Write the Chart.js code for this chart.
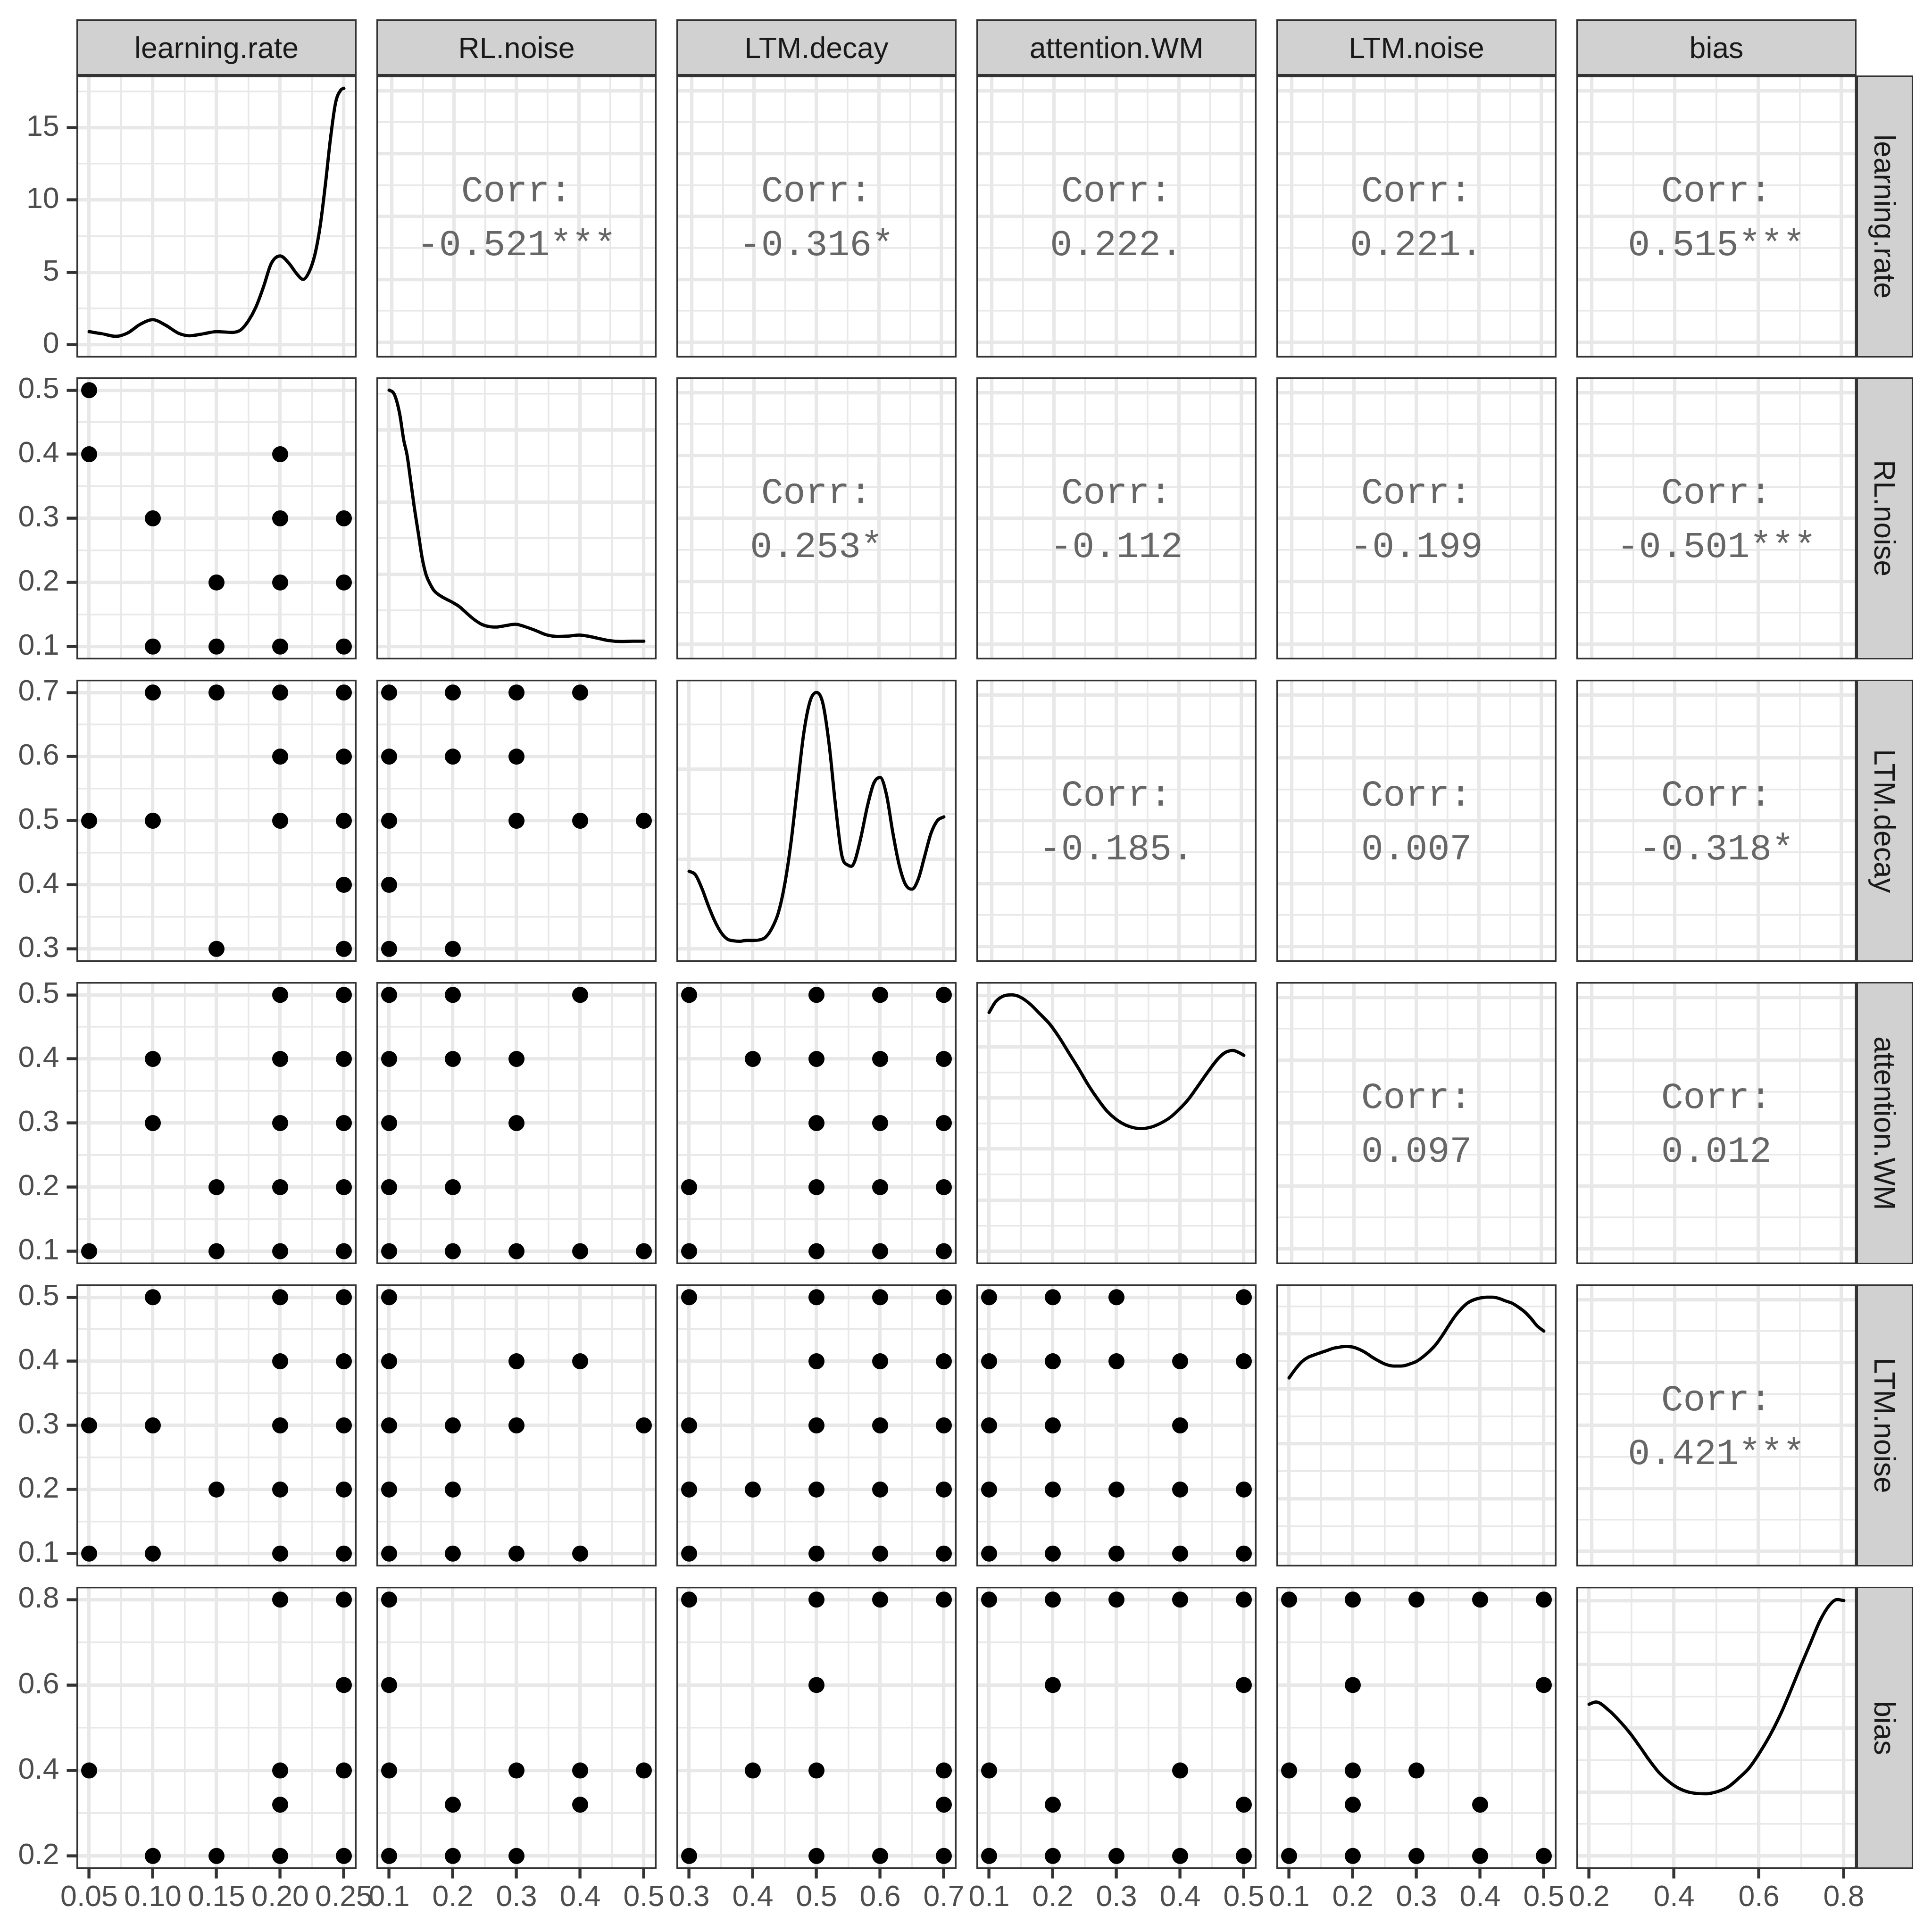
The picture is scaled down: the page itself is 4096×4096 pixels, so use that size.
<!DOCTYPE html>
<html>
<head>
<meta charset="utf-8">
<script src="https://cdn.jsdelivr.net/npm/chart.js"></script>
<style>
html,body{margin:0;padding:0;background:#ffffff;}
#root{position:relative;width:4096px;height:4096px;overflow:hidden;background:#ffffff;}
.pc{position:absolute;}
.strip{position:absolute;box-sizing:border-box;border:3.3px solid #333333;background:#D1D1D1;color:#1A1A1A;
  font-family:"Liberation Sans",Arial,Helvetica,sans-serif;font-size:62.6px;display:flex;align-items:center;justify-content:center;white-space:nowrap;}
.vstrip{writing-mode:vertical-rl;}
.corr{position:absolute;font-family:"Liberation Mono","Courier New",monospace;font-size:78.2px;line-height:78.2px;color:#666666;text-align:center;white-space:pre;}
</style>
</head>
<body>
<div id="root"></div>
<script>
// ---------------- DATA ----------------
const variables = ['learning.rate', 'RL.noise', 'LTM.decay', 'attention.WM', 'LTM.noise', 'bias'];

// axis tick labels (major breaks) of each variable
const ticksLearningRate = ['0.05', '0.10', '0.15', '0.20', '0.25'];
const ticksRLNoise      = ['0.1', '0.2', '0.3', '0.4', '0.5'];
const ticksLTMDecay     = ['0.3', '0.4', '0.5', '0.6', '0.7'];
const ticksAttentionWM  = ['0.1', '0.2', '0.3', '0.4', '0.5'];
const ticksLTMNoise     = ['0.1', '0.2', '0.3', '0.4', '0.5'];
const ticksBias         = ['0.2', '0.4', '0.6', '0.8'];

// density-axis breaks of the diagonal panels
const densTicksLearningRate = ['0', '5', '10', '15'];
const densTicksRLNoise      = ['0', '2', '4', '6'];
const densTicksLTMDecay     = ['0', '2', '4'];
const densTicksAttentionWM  = ['0', '0.5', '1', '1.5', '2', '2.5'];
const densTicksLTMNoise     = ['0', '0.5', '1', '1.5', '2'];
const densTicksBias         = ['0', '0.5', '1', '1.5', '2'];

// density curves (diagonal)
const densLearningRateX = [0.05,0.06,0.071,0.08,0.09,0.10,0.11,0.12,0.129,0.14,0.15,0.162,0.169,0.175,0.181,0.187,0.193,0.20,0.207,0.213,0.218,0.223,0.2275,0.2315,0.2355,0.2395,0.2435,0.2476,0.25];
const densLearningRateY = [0.90,0.76,0.58,0.80,1.40,1.73,1.35,0.80,0.62,0.76,0.90,0.85,1.02,1.64,2.61,4.02,5.61,6.13,5.61,4.90,4.51,5.08,6.31,8.25,11.07,14.24,16.71,17.59,17.71];

const densRLNoiseX = [0.100,0.107,0.112,0.117,0.123,0.128,0.133,0.139,0.146,0.152,0.158,0.165,0.171,0.181,0.190,0.200,0.210,0.219,0.232,0.245,0.258,0.267,0.283,0.298,0.312,0.328,0.348,0.364,0.380,0.399,0.412,0.428,0.444,0.466,0.482,0.500];
const densRLNoiseY = [7.10,7.02,6.79,6.40,5.71,5.32,4.70,3.92,3.12,2.44,1.99,1.71,1.54,1.40,1.31,1.22,1.11,0.97,0.77,0.62,0.55,0.54,0.58,0.62,0.56,0.46,0.32,0.28,0.29,0.32,0.29,0.23,0.17,0.14,0.15,0.15];

const densLTMDecayX = [0.30,0.31,0.32,0.33,0.34,0.35,0.36,0.37,0.38,0.39,0.40,0.41,0.42,0.43,0.44,0.45,0.46,0.47,0.48,0.49,0.50,0.51,0.52,0.53,0.54,0.55,0.555,0.56,0.57,0.58,0.59,0.60,0.61,0.62,0.63,0.64,0.65,0.66,0.67,0.68,0.69,0.70];
const densLTMDecayY = [1.73,1.65,1.35,0.97,0.63,0.37,0.22,0.18,0.17,0.19,0.19,0.20,0.26,0.46,0.80,1.43,2.37,3.60,4.80,5.52,5.71,5.47,4.54,3.18,2.07,1.86,1.84,1.95,2.50,3.18,3.69,3.82,3.43,2.58,1.86,1.43,1.33,1.56,2.07,2.58,2.86,2.94];

const densAttentionWMX = [0.100,0.110,0.122,0.135,0.149,0.164,0.179,0.195,0.210,0.225,0.240,0.255,0.270,0.285,0.300,0.315,0.330,0.340,0.354,0.369,0.384,0.399,0.414,0.429,0.444,0.459,0.471,0.483,0.492,0.500];
const densAttentionWMY = [2.335,2.438,2.494,2.507,2.485,2.419,2.326,2.223,2.092,1.942,1.792,1.633,1.493,1.371,1.287,1.232,1.204,1.200,1.213,1.251,1.307,1.391,1.494,1.625,1.757,1.879,1.944,1.963,1.944,1.916];

const densLTMNoiseX = [0.10,0.11,0.12,0.13,0.14,0.15,0.16,0.17,0.18,0.19,0.20,0.21,0.22,0.23,0.24,0.25,0.26,0.27,0.28,0.29,0.30,0.31,0.32,0.33,0.34,0.35,0.36,0.37,0.38,0.39,0.40,0.41,0.42,0.43,0.44,0.45,0.46,0.47,0.48,0.49,0.50];
const densLTMNoiseY = [1.60,1.68,1.747,1.787,1.81,1.83,1.85,1.87,1.88,1.887,1.88,1.86,1.83,1.79,1.756,1.727,1.71,1.707,1.71,1.727,1.75,1.79,1.84,1.90,1.98,2.07,2.157,2.226,2.28,2.31,2.327,2.334,2.334,2.322,2.30,2.28,2.244,2.20,2.14,2.07,2.026];

const densBiasX = [0.200,0.216,0.247,0.274,0.297,0.320,0.342,0.365,0.387,0.410,0.437,0.473,0.500,0.527,0.554,0.577,0.599,0.626,0.653,0.676,0.698,0.721,0.744,0.766,0.784,0.800];
const densBiasY = [1.188,1.206,1.139,1.049,0.959,0.854,0.749,0.652,0.584,0.532,0.498,0.487,0.502,0.539,0.614,0.689,0.794,0.944,1.124,1.303,1.483,1.663,1.843,1.963,2.008,2.000];

// scatter panels: [x, y] (name = yVariable_vs_xVariable)
const rlNoise_vs_learningRate = [[0.05,0.5],[0.05,0.4],[0.2,0.4],[0.1,0.3],[0.2,0.3],[0.25,0.3],[0.15,0.2],[0.2,0.2],[0.25,0.2],[0.1,0.1],[0.15,0.1],[0.2,0.1],[0.25,0.1]];
const ltmDecay_vs_learningRate = [[0.1,0.7],[0.15,0.7],[0.2,0.7],[0.25,0.7],[0.2,0.6],[0.25,0.6],[0.05,0.5],[0.1,0.5],[0.2,0.5],[0.25,0.5],[0.25,0.4],[0.15,0.3],[0.25,0.3]];
const ltmDecay_vs_rlNoise = [[0.1,0.7],[0.2,0.7],[0.3,0.7],[0.4,0.7],[0.1,0.6],[0.2,0.6],[0.3,0.6],[0.1,0.5],[0.3,0.5],[0.4,0.5],[0.5,0.5],[0.1,0.4],[0.1,0.3],[0.2,0.3]];
const attentionWM_vs_learningRate = [[0.2,0.5],[0.25,0.5],[0.1,0.4],[0.2,0.4],[0.25,0.4],[0.1,0.3],[0.2,0.3],[0.25,0.3],[0.15,0.2],[0.2,0.2],[0.25,0.2],[0.05,0.1],[0.15,0.1],[0.2,0.1],[0.25,0.1]];
const attentionWM_vs_rlNoise = [[0.1,0.5],[0.2,0.5],[0.4,0.5],[0.1,0.4],[0.2,0.4],[0.3,0.4],[0.1,0.3],[0.3,0.3],[0.1,0.2],[0.2,0.2],[0.1,0.1],[0.2,0.1],[0.3,0.1],[0.4,0.1],[0.5,0.1]];
const attentionWM_vs_ltmDecay = [[0.3,0.5],[0.5,0.5],[0.6,0.5],[0.7,0.5],[0.4,0.4],[0.5,0.4],[0.6,0.4],[0.7,0.4],[0.5,0.3],[0.6,0.3],[0.7,0.3],[0.3,0.2],[0.5,0.2],[0.6,0.2],[0.7,0.2],[0.3,0.1],[0.5,0.1],[0.6,0.1],[0.7,0.1]];
const ltmNoise_vs_learningRate = [[0.1,0.5],[0.2,0.5],[0.25,0.5],[0.2,0.4],[0.25,0.4],[0.05,0.3],[0.1,0.3],[0.2,0.3],[0.25,0.3],[0.15,0.2],[0.2,0.2],[0.25,0.2],[0.05,0.1],[0.1,0.1],[0.2,0.1],[0.25,0.1]];
const ltmNoise_vs_rlNoise = [[0.1,0.5],[0.1,0.4],[0.3,0.4],[0.4,0.4],[0.1,0.3],[0.2,0.3],[0.3,0.3],[0.5,0.3],[0.1,0.2],[0.2,0.2],[0.1,0.1],[0.2,0.1],[0.3,0.1],[0.4,0.1]];
const ltmNoise_vs_ltmDecay = [[0.3,0.5],[0.5,0.5],[0.6,0.5],[0.7,0.5],[0.5,0.4],[0.6,0.4],[0.7,0.4],[0.3,0.3],[0.5,0.3],[0.6,0.3],[0.7,0.3],[0.3,0.2],[0.4,0.2],[0.5,0.2],[0.6,0.2],[0.7,0.2],[0.3,0.1],[0.5,0.1],[0.6,0.1],[0.7,0.1]];
const ltmNoise_vs_attentionWM = [[0.1,0.5],[0.2,0.5],[0.3,0.5],[0.5,0.5],[0.1,0.4],[0.2,0.4],[0.3,0.4],[0.4,0.4],[0.5,0.4],[0.1,0.3],[0.2,0.3],[0.4,0.3],[0.1,0.2],[0.2,0.2],[0.3,0.2],[0.4,0.2],[0.5,0.2],[0.1,0.1],[0.2,0.1],[0.3,0.1],[0.4,0.1],[0.5,0.1]];
const bias_vs_learningRate = [[0.2,0.8],[0.25,0.8],[0.25,0.6],[0.05,0.4],[0.2,0.4],[0.25,0.4],[0.2,0.32],[0.1,0.2],[0.15,0.2],[0.2,0.2],[0.25,0.2]];
const bias_vs_rlNoise = [[0.1,0.8],[0.1,0.6],[0.1,0.4],[0.3,0.4],[0.4,0.4],[0.5,0.4],[0.2,0.32],[0.4,0.32],[0.1,0.2],[0.2,0.2],[0.3,0.2]];
const bias_vs_ltmDecay = [[0.3,0.8],[0.5,0.8],[0.6,0.8],[0.7,0.8],[0.5,0.6],[0.4,0.4],[0.5,0.4],[0.7,0.4],[0.7,0.32],[0.3,0.2],[0.5,0.2],[0.6,0.2],[0.7,0.2]];
const bias_vs_attentionWM = [[0.1,0.8],[0.2,0.8],[0.3,0.8],[0.4,0.8],[0.5,0.8],[0.2,0.6],[0.5,0.6],[0.1,0.4],[0.4,0.4],[0.2,0.32],[0.5,0.32],[0.1,0.2],[0.2,0.2],[0.3,0.2],[0.4,0.2],[0.5,0.2]];
const bias_vs_ltmNoise = [[0.1,0.8],[0.2,0.8],[0.3,0.8],[0.4,0.8],[0.5,0.8],[0.2,0.6],[0.5,0.6],[0.1,0.4],[0.2,0.4],[0.3,0.4],[0.2,0.32],[0.4,0.32],[0.1,0.2],[0.2,0.2],[0.3,0.2],[0.4,0.2],[0.5,0.2]];

// correlation labels of the upper panels, row by row
const corrLabels = ['-0.521***', '-0.316*', '0.222.', '0.221.', '0.515***',
                    '0.253*', '-0.112', '-0.199', '-0.501***',
                    '-0.185.', '0.007', '-0.318*',
                    '0.097', '0.012',
                    '0.421***'];

// ---------------- ASSEMBLY ----------------
const varTicks = [ticksLearningRate, ticksRLNoise, ticksLTMDecay, ticksAttentionWM, ticksLTMNoise, ticksBias];
const densTicks = [densTicksLearningRate, densTicksRLNoise, densTicksLTMDecay, densTicksAttentionWM, densTicksLTMNoise, densTicksBias];
const densX = [densLearningRateX, densRLNoiseX, densLTMDecayX, densAttentionWMX, densLTMNoiseX, densBiasX];
const densY = [densLearningRateY, densRLNoiseY, densLTMDecayY, densAttentionWMY, densLTMNoiseY, densBiasY];
const scatterSets = {
  '1_0': rlNoise_vs_learningRate,
  '2_0': ltmDecay_vs_learningRate, '2_1': ltmDecay_vs_rlNoise,
  '3_0': attentionWM_vs_learningRate, '3_1': attentionWM_vs_rlNoise, '3_2': attentionWM_vs_ltmDecay,
  '4_0': ltmNoise_vs_learningRate, '4_1': ltmNoise_vs_rlNoise, '4_2': ltmNoise_vs_ltmDecay, '4_3': ltmNoise_vs_attentionWM,
  '5_0': bias_vs_learningRate, '5_1': bias_vs_rlNoise, '5_2': bias_vs_ltmDecay, '5_3': bias_vs_attentionWM, '5_4': bias_vs_ltmNoise
};

// ---------------- LAYOUT / STYLE ----------------
const S = 4096 / 4800;
const colLeft = c => Math.round((190 + c * 745.2) * S);
const rowTop  = r => Math.round((187 + r * 751) * S);
const PW = Math.round(696 * S);
const PH = Math.round(701 * S);
const P = 180;
const TL = 20.5, TW = 6.4, GMAJ = 7.2, GMIN = 3.6, BW = 3.4, LW = 6.8, PR = 17;
const FONT = '"Liberation Sans", Arial, Helvetica, sans-serif';
const root = document.getElementById('root');

function varRange(i, e) {
  const xs = densX[i], lo = xs[0], hi = xs[xs.length - 1], d = hi - lo;
  return [lo - e * d, hi + e * d];
}
function makeTicks(labels, lo, hi, show) {
  const maj = labels.map(Number);
  const step = maj[1] - maj[0];
  const out = [];
  maj.forEach((v, k) => { if (v >= lo - 1e-9 && v <= hi + 1e-9) out.push({value: v, isMajor: true, lab: show ? labels[k] : ''}); });
  for (let k = -1; k < maj.length; k++) {
    const m = maj[0] + (k + 0.5) * step;
    if (m >= lo && m <= hi) out.push({value: m, isMajor: false, lab: ''});
  }
  out.sort((a, b) => a.value - b.value);
  return out;
}
const borderPlugin = {
  id: 'panelBorder',
  afterDatasetsDraw(chart) {
    const {ctx, chartArea: a} = chart;
    ctx.save();
    ctx.strokeStyle = '#333333';
    ctx.lineWidth = BW;
    ctx.strokeRect(a.left + BW / 2, a.top + BW / 2, a.width - BW, a.height - BW);
    ctx.restore();
  }
};
function axisOpts(pos, lo, hi, labels, show, isX) {
  return {
    type: 'linear', position: pos, min: lo, max: hi, bounds: 'data',
    afterBuildTicks: s => { s.ticks = makeTicks(labels, lo, hi, show); },
    afterFit: s => {
      if (isX) { s.height = P; s.paddingLeft = 0; s.paddingRight = 0; }
      else { s.width = P; s.paddingTop = 0; s.paddingBottom = 0; }
    },
    border: {display: false},
    grid: {
      color: '#E8E8E8',
      lineWidth: ctx => (ctx.tick && ctx.tick.isMajor) ? GMAJ : GMIN,
      drawTicks: show,
      tickLength: TL,
      tickWidth: TW,
      tickColor: ctx => (ctx.tick && ctx.tick.isMajor) ? '#333333' : 'rgba(0,0,0,0)'
    },
    ticks: {
      display: show, autoSkip: false, maxRotation: 0, minRotation: 0,
      padding: isX ? 3.4 : 16,
      color: '#4D4D4D',
      font: {family: FONT, size: 62.6},
      callback: (v, i, t) => (t[i] && t[i].lab) ? t[i].lab : ''
    }
  };
}

for (let r = 0; r < 6; r++) {
  for (let c = 0; c < 6; c++) {
    const left = colLeft(c), top = rowTop(r);
    const box = document.createElement('div');
    box.className = 'pc';
    box.style.left = (left - P) + 'px';
    box.style.top = (top - P) + 'px';
    box.style.width = (PW + 2 * P) + 'px';
    box.style.height = (PH + 2 * P) + 'px';
    const cv = document.createElement('canvas');
    box.appendChild(cv);
    root.appendChild(box);

    const isDiag = r === c, isUpper = c > r;
    const e = isUpper ? 0.061 : 0.05;
    const [xlo, xhi] = varRange(c, e);
    let ylo, yhi, yLabels;
    if (isDiag) {
      const M = Math.max(...densY[r]);
      ylo = -0.05 * M; yhi = 1.05 * M; yLabels = densTicks[r];
    } else {
      [ylo, yhi] = varRange(r, e); yLabels = varTicks[r];
    }
    let datasets = [];
    if (isDiag) {
      datasets = [{
        type: 'line',
        data: densX[r].map((x, k) => ({x: x, y: densY[r][k]})),
        borderColor: '#000000', borderWidth: LW, pointRadius: 0, fill: false,
        cubicInterpolationMode: 'monotone', borderCapStyle: 'round', borderJoinStyle: 'round'
      }];
    } else if (!isUpper) {
      datasets = [{
        type: 'scatter',
        data: scatterSets[r + '_' + c].map(p => ({x: p[0], y: p[1]})),
        pointRadius: PR, pointBackgroundColor: '#000000', pointBorderWidth: 0, borderWidth: 0, showLine: false
      }];
    }
    new Chart(cv, {
      type: 'scatter',
      data: {datasets: datasets},
      options: {
        responsive: true, maintainAspectRatio: false, devicePixelRatio: 1,
        animation: false, events: [],
        layout: {padding: {left: 0, top: P, right: P, bottom: 0}},
        plugins: {legend: {display: false}, tooltip: {enabled: false}},
        scales: {
          x: axisOpts('bottom', xlo, xhi, varTicks[c], r === 5, true),
          y: axisOpts('left', ylo, yhi, yLabels, c === 0, false)
        }
      },
      plugins: [borderPlugin]
    });
  }
}

// correlation texts
let idx = 0;
for (let r = 0; r < 6; r++) {
  for (let c = r + 1; c < 6; c++) {
    const cy = rowTop(r) + PH / 2;
    const lines = [['Corr:', cy - 32.0], [corrLabels[idx], cy + 81.5]];
    lines.forEach(([txt, base]) => {
      const d = document.createElement('div');
      d.className = 'corr';
      d.style.left = colLeft(c) + 'px';
      d.style.width = PW + 'px';
      d.style.top = (base - 59.9) + 'px';
      d.textContent = txt;
      root.appendChild(d);
    });
    idx++;
  }
}

// strips
const stripTop = Math.round(47.8 * S);
const stripRight = Math.round(4753 * S);
for (let c = 0; c < 6; c++) {
  const d = document.createElement('div');
  d.className = 'strip';
  d.style.left = colLeft(c) + 'px';
  d.style.top = stripTop + 'px';
  d.style.width = PW + 'px';
  d.style.height = (rowTop(0) - stripTop) + 'px';
  d.textContent = variables[c];
  root.appendChild(d);
}
for (let r = 0; r < 6; r++) {
  const d = document.createElement('div');
  d.className = 'strip vstrip';
  const x0 = colLeft(5) + PW;
  d.style.left = x0 + 'px';
  d.style.top = rowTop(r) + 'px';
  d.style.width = (stripRight - x0) + 'px';
  d.style.height = PH + 'px';
  d.textContent = variables[r];
  root.appendChild(d);
}
</script>
</body>
</html>
